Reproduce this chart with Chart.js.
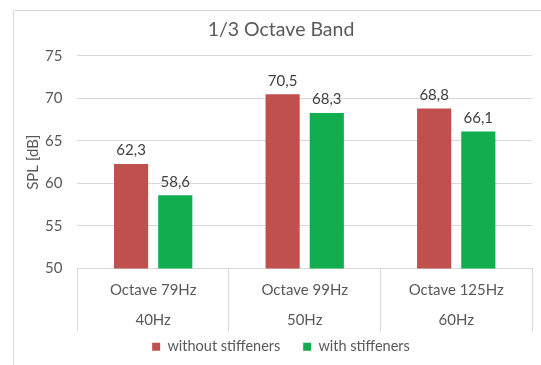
<!DOCTYPE html>
<html>
<head>
<meta charset="utf-8">
<script src="https://cdn.jsdelivr.net/npm/chart.js@4/dist/chart.umd.min.js"></script>
<style>
  html, body { margin: 0; padding: 0; background: #fff; }
  #wrap { position: relative; width: 541px; height: 365px; overflow: hidden; }
  #frame { position: absolute; left: 13px; top: 10px; width: 700px; height: 500px;
           border: 1px solid #d9d9d9; border-radius: 2px; box-sizing: border-box; }
  #c { position: absolute; left: 0; top: 0; }
</style>
</head>
<body>
<div id="wrap">
  <div id="frame"></div>
  <canvas id="c" width="541" height="365"></canvas>
</div>
<script>
// Band names (upper row) and centre frequencies (lower row)
const bandNames = ['Octave 79Hz', 'Octave 99Hz', 'Octave 125Hz'];
const bandFreqs = ['40Hz', '50Hz', '60Hz'];

// Series names
const seriesNames = ['without stiffeners', 'with stiffeners'];

// Sound pressure level, dB
const withoutStiffeners = [62.3, 70.5, 68.8];
const withStiffeners = [58.6, 68.3, 66.1];

// Y axis ticks
const yTicks = [50, 55, 60, 65, 70, 75];

const FONT = "Lato, 'Open Sans', sans-serif";
const TEXT = '#595959';
const GRID = '#d9d9d9';

const fmt = v => v.toFixed(1).replace('.', ',');

// Value labels above each bar
const valueLabels = {
  id: 'valueLabels',
  afterDatasetsDraw(chart) {
    const ctx = chart.ctx;
    ctx.save();
    ctx.font = '15px ' + FONT;
    ctx.fillStyle = '#404040';
    ctx.textAlign = 'center';
    ctx.textBaseline = 'bottom';
    chart.data.datasets.forEach((ds, di) => {
      const meta = chart.getDatasetMeta(di);
      meta.data.forEach((bar, i) => {
        ctx.fillText(fmt(ds.data[i]), bar.x, bar.y - 6);
      });
    });
    ctx.restore();
  }
};

// Two-row category labels inside the boxed x axis
const twoRowLabels = {
  id: 'twoRowLabels',
  afterDraw(chart) {
    const x = chart.scales.x;
    const ctx = chart.ctx;
    ctx.save();
    ctx.font = '15px ' + FONT;
    ctx.fillStyle = TEXT;
    ctx.textAlign = 'center';
    ctx.textBaseline = 'middle';
    bandNames.forEach((name, i) => {
      const px = x.getPixelForValue(i);
      ctx.fillText(name, px, x.top + 22);
      ctx.fillText(bandFreqs[i], px, x.top + 52);
    });
    ctx.restore();
  }
};

new Chart(document.getElementById('c'), {
  type: 'bar',
  data: {
    labels: bandNames.map((n, i) => n + ' ' + bandFreqs[i]),
    datasets: [
      { label: seriesNames[0], data: withoutStiffeners, backgroundColor: '#C0504D' },
      { label: seriesNames[1], data: withStiffeners, backgroundColor: '#12AD4F' }
    ]
  },
  options: {
    responsive: false,
    animation: false,
    devicePixelRatio: 1,
    layout: { padding: { left: 30, right: 9, top: 15, bottom: 1 } },
    datasets: {
      bar: { categoryPercentage: 0.583, barPercentage: 0.773 }
    },
    plugins: {
      title: {
        display: true,
        text: '1/3 Octave Band',
        color: TEXT,
        font: { family: FONT, size: 19.5, weight: 'normal' },
        padding: { top: 3, bottom: 14.5 }
      },
      legend: {
        position: 'bottom',
        labels: {
          color: TEXT,
          font: { family: FONT, size: 14.5 },
          boxWidth: 8,
          boxHeight: 8,
          padding: 8,
          // wider gap between the two legend entries
          generateLabels(chart) {
            const items = Chart.defaults.plugins.legend.labels.generateLabels(chart);
            items.forEach((it, i) => {
              if (i < items.length - 1) it.text = it.text + '    ';
            });
            return items;
          }
        }
      },
      tooltip: { enabled: false }
    },
    scales: {
      x: {
        grid: {
          offset: true,
          drawOnChartArea: false,
          drawTicks: true,
          tickLength: 63,
          color: GRID
        },
        border: { display: true, color: GRID },
        ticks: { display: false }
      },
      y: {
        min: yTicks[0],
        max: yTicks[yTicks.length - 1],
        afterBuildTicks(axis) { axis.ticks = yTicks.map(v => ({ value: v })); },
        grid: { color: GRID, drawTicks: false },
        border: { display: false },
        ticks: {
          color: TEXT,
          font: { family: FONT, size: 15 },
          padding: 15
        },
        title: {
          display: true,
          text: 'SPL [dB]',
          color: TEXT,
          font: { family: FONT, size: 15 },
          padding: { top: -6, bottom: -12 }
        }
      }
    }
  },
  plugins: [valueLabels, twoRowLabels]
});
</script>
</body>
</html>
